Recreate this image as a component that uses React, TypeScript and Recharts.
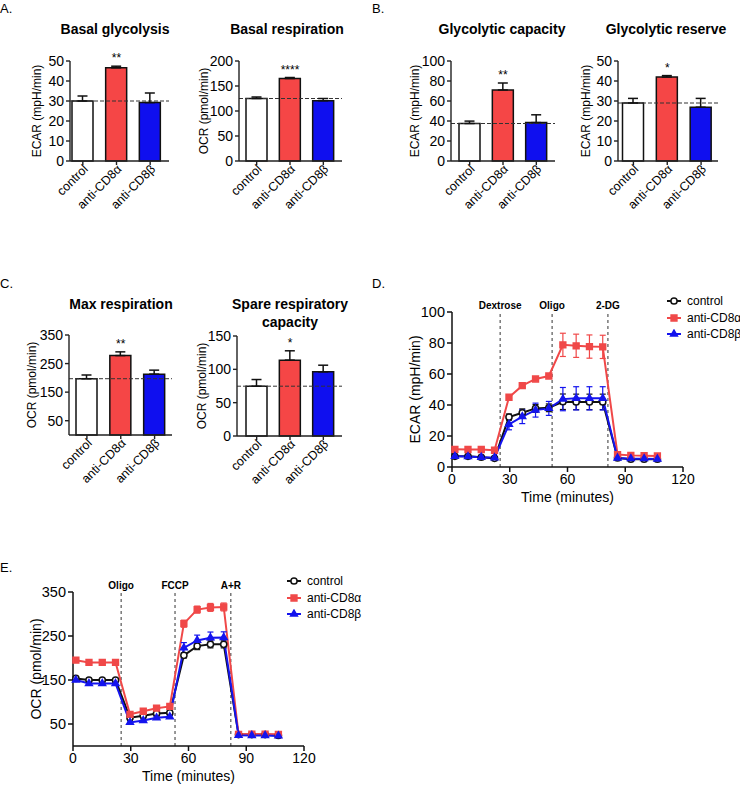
import React from 'react'
import {
  BarChart,
  Bar,
  Cell,
  ErrorBar,
  LineChart,
  Line,
  XAxis,
  YAxis,
  ReferenceLine,
  ReferenceDot,
  Legend,
  Symbols,
} from 'recharts'

const FONT = '"Liberation Sans", Arial, Helvetica, sans-serif'

// bar panels
const groups = ['control', 'anti-CD8α', 'anti-CD8β']
const groupColors = ['#ffffff', '#f54646', '#0f0fef']

const basalGlycolysis = [30, 46.6, 29.2]
const basalGlycolysisErr = [2.5, 0.8, 4.8]
const basalGlycolysisSig = ['', '**', '']

const basalRespiration = [125, 165, 120.5]
const basalRespirationErr = [3, 2, 4.5]
const basalRespirationSig = ['', '****', '']

const glycolyticCapacity = [37.5, 71, 38.4]
const glycolyticCapacityErr = [2.4, 7, 7.8]
const glycolyticCapacitySig = ['', '**', '']

const glycolyticReserve = [29, 42, 26.9]
const glycolyticReserveErr = [2.3, 0.7, 4.4]
const glycolyticReserveSig = ['', '*', '']

const maxRespiration = [197, 278, 213]
const maxRespirationErr = [13, 13, 14]
const maxRespirationSig = ['', '**', '']

const spareCapacity = [74.7, 113.8, 96.2]
const spareCapacityErr = [10, 14, 10]
const spareCapacitySig = ['', '*', '']

// time courses
const times = [1.5, 8.3, 15.2, 22.1, 29.6, 36.5, 43.4, 50.3, 57.6, 64.5, 71.4, 78.3, 86, 92.9, 99.8, 106.7]
const timeTicks = [0, 30, 60, 90, 120]

const ecarControl = [6.9, 6.9, 6.3, 5.6, 32.2, 35, 37.8, 38.2, 42.1, 42, 42, 42, 5.8, 5, 5, 5]
const ecarControlErr = [0.8, 0.8, 0.8, 0.8, 2, 2.5, 2.5, 2.5, 5, 5, 5, 5, 0.8, 0.5, 0.5, 0.5]
const ecarCD8a = [11.4, 11.3, 11.3, 10.8, 45, 52.5, 56.8, 58.7, 78.8, 78.2, 77.7, 77.5, 8, 7.5, 7.3, 7.1]
const ecarCD8aErr = [1, 1, 1, 1, 1, 1, 1, 1, 7.5, 7.5, 7.5, 7.5, 0.8, 0.8, 0.8, 0.8]
const ecarCD8b = [6.9, 6.7, 6.3, 6, 27.5, 32.5, 36.7, 37.8, 43.8, 44.3, 44.3, 44.3, 5.8, 5.4, 5.4, 5.2]
const ecarCD8bErr = [0.8, 0.8, 0.8, 0.8, 3.5, 4.5, 4.5, 4.5, 7.5, 7.5, 7.5, 7.5, 0.8, 0.8, 0.8, 0.8]
const ecarEvents = [25, 52, 81]
const ecarEventNames = ['Dextrose', 'Oligo', '2-DG']

const ocrControl = [153.5, 150, 150, 150, 64.3, 69, 74, 75.6, 206, 227, 231, 231, 26, 26, 26, 24]
const ocrControlErr = [3, 3, 3, 3, 3, 3, 3, 3, 6, 8, 8, 8, 2, 2, 2, 2]
const ocrCD8a = [195, 190, 190, 190, 72, 79, 86, 90, 278, 310, 315, 316, 26.5, 27, 27, 26.5]
const ocrCD8aErr = [4, 3, 3, 3, 3, 3, 3, 3, 8, 8, 9, 9, 2, 2, 2, 2]
const ocrCD8b = [150, 142, 142, 142, 53.7, 58, 64, 66.6, 223, 240, 246, 246.5, 24.2, 24, 24, 23]
const ocrCD8bErr = [3, 3, 3, 3, 3, 3, 3, 3, 12, 12, 13, 13, 2, 2, 2, 2]
const ocrEvents = [25, 53, 82]
const ocrEventNames = ['Oligo', 'FCCP', 'A+R']

const ecarData = times.map((t, i) => ({
  t,
  control: ecarControl[i],
  controlErr: ecarControlErr[i],
  cd8a: ecarCD8a[i],
  cd8aErr: ecarCD8aErr[i],
  cd8b: ecarCD8b[i],
  cd8bErr: ecarCD8bErr[i],
}))

const ocrData = times.map((t, i) => ({
  t,
  control: ocrControl[i],
  controlErr: ocrControlErr[i],
  cd8a: ocrCD8a[i],
  cd8aErr: ocrCD8aErr[i],
  cd8b: ocrCD8b[i],
  cd8bErr: ocrCD8bErr[i],
}))

const series = [
  { key: 'control', name: 'control', color: '#111111', fill: '#ffffff', symbol: 'circle', size: 30 },
  { key: 'cd8a', name: 'anti-CD8α', color: '#f04848', fill: '#f04848', symbol: 'square', size: 34 },
  { key: 'cd8b', name: 'anti-CD8β', color: '#1414ee', fill: '#1414ee', symbol: 'triangle', size: 20 },
]

const renderGroupTick = (props: any) => {
  const { x, y, payload } = props
  return (
    <text
      x={x + 3}
      y={y}
      dy={4}
      transform={`rotate(-45 ${x + 3} ${y})`}
      textAnchor="end"
      fontSize={12.5}
      fontFamily={FONT}
      fill="#000"
    >
      {payload.value}
    </text>
  )
}

type BarPanelProps = {
  left: number
  top: number
  width: number
  yAxisWidth: number
  marginRight: number
  padLeft: number
  padRight: number
  domain: [number, number]
  ticks: number[]
  means: number[]
  errs: number[]
  sig: string[]
  yLabel: string
  yLabelX: number
}

function BarPanel(p: BarPanelProps) {
  const data = groups.map((g, i) => ({ group: g, mean: p.means[i], err: [0, p.errs[i]] }))
  return (
    <div style={{ position: 'absolute', left: p.left, top: p.top }}>
      <BarChart
        width={p.width}
        height={193}
        data={data}
        margin={{ top: 21, right: p.marginRight, bottom: 0, left: 0 }}
        style={{ fontFamily: FONT }}
      >
        <XAxis
          dataKey="group"
          interval={0}
          padding={{ left: p.padLeft, right: p.padRight }}
          height={72}
          tickSize={4}
          axisLine={{ stroke: '#222', strokeWidth: 1.4 }}
          tickLine={{ stroke: '#222', strokeWidth: 1.4 }}
          tick={renderGroupTick}
        />
        <YAxis
          width={p.yAxisWidth}
          domain={p.domain}
          ticks={p.ticks}
          interval={0}
          tickSize={4}
          axisLine={{ stroke: '#222', strokeWidth: 1.4 }}
          tickLine={{ stroke: '#222', strokeWidth: 1.4 }}
          tick={{ fontSize: 14, fill: '#000' }}
          label={{
            value: p.yLabel,
            angle: -90,
            position: 'insideLeft',
            offset: p.yLabelX,
            fontSize: 12,
            fill: '#000',
            style: { textAnchor: 'middle' },
          }}
        />
        <ReferenceLine y={p.means[0]} stroke="#333" strokeDasharray="4 2" />
        <Bar dataKey="mean" barSize={21} stroke="#111" strokeWidth={1.5} isAnimationActive={false}>
          {data.map((d, i) => (
            <Cell key={d.group} fill={groupColors[i]} />
          ))}
          <ErrorBar dataKey="err" width={5} stroke="#111" strokeWidth={1.5} direction="y" />
        </Bar>
        {p.sig.map((s, i) =>
          s ? (
            <ReferenceDot
              key={groups[i]}
              x={groups[i]}
              y={p.means[i] + p.errs[i]}
              r={0}
              fill="none"
              stroke="none"
              label={{ value: s, position: 'top', offset: 4, fontSize: 12, fill: '#000' }}
            />
          ) : null
        )}
      </BarChart>
    </div>
  )
}

// legend keeps the series order (control first)
const renderLegend = (props: any) => {
  const payload: any[] = props.payload || []
  return (
    <div style={{ fontFamily: FONT, fontSize: 12, color: '#000' }}>
      {series.map((s) => {
        const entry = payload.find((e) => e.dataKey === s.key)
        return (
          <div key={s.key} style={{ display: 'flex', alignItems: 'center', height: 16.5, whiteSpace: 'nowrap' }}>
            <svg width={14} height={10}>
              <line x1={0} x2={14} y1={5} y2={5} stroke={s.color} strokeWidth={2} />
              <Symbols cx={7} cy={5} type={s.symbol as any} size={s.size} fill={s.fill} stroke={s.color} strokeWidth={1.5} />
            </svg>
            <span style={{ marginLeft: 6 }}>{entry ? entry.value : s.name}</span>
          </div>
        )
      })}
    </div>
  )
}

type TimePanelProps = {
  left: number
  top: number
  height: number
  yAxisWidth: number
  marginTop: number
  marginRight: number
  marginBottom: number
  yDomain: [number, number]
  yTicks: number[]
  data: any[]
  yLabel: string
  yLabelX: number
  events: number[]
  eventNames: string[]
  legendLeft: number
  legendTop: number
}

function TimePanel(p: TimePanelProps) {
  return (
    <div style={{ position: 'absolute', left: p.left, top: p.top }}>
      <LineChart
        width={370}
        height={p.height}
        data={p.data}
        margin={{ top: p.marginTop, right: p.marginRight, bottom: p.marginBottom, left: 0 }}
        style={{ fontFamily: FONT }}
      >
        <XAxis
          type="number"
          dataKey="t"
          domain={[0, 120]}
          ticks={timeTicks}
          interval={0}
          tickSize={5}
          height={36}
          axisLine={{ stroke: '#111', strokeWidth: 1.5 }}
          tickLine={{ stroke: '#111', strokeWidth: 1.5 }}
          tick={{ fontSize: 14, fill: '#000' }}
          label={{ value: 'Time (minutes)', position: 'insideBottom', offset: 1, fontSize: 14, fill: '#000' }}
        />
        <YAxis
          domain={p.yDomain}
          ticks={p.yTicks}
          interval={0}
          width={p.yAxisWidth}
          tickSize={5}
          axisLine={{ stroke: '#111', strokeWidth: 1.5 }}
          tickLine={{ stroke: '#111', strokeWidth: 1.5 }}
          tick={{ fontSize: 14.5, fill: '#000' }}
          label={{
            value: p.yLabel,
            angle: -90,
            position: 'insideLeft',
            offset: p.yLabelX,
            fontSize: 14,
            fill: '#000',
            style: { textAnchor: 'middle' },
          }}
        />
        {p.events.map((e, i) => (
          <ReferenceLine
            key={e}
            x={e}
            stroke="#333"
            strokeDasharray="3 3"
            label={{ value: p.eventNames[i], position: 'top', offset: 3, fontSize: 10, fontWeight: 700, fill: '#000' }}
          />
        ))}
        {series.map((s) => (
          <Line
            key={s.key}
            dataKey={s.key}
            name={s.name}
            stroke={s.color}
            strokeWidth={2}
            isAnimationActive={false}
            dot={(dp: any) => (
              <Symbols
                key={`${s.key}-${dp.index}`}
                cx={dp.cx}
                cy={dp.cy}
                type={s.symbol as any}
                size={s.size}
                fill={s.fill}
                stroke={s.color}
                strokeWidth={1.5}
              />
            )}
          >
            <ErrorBar dataKey={`${s.key}Err`} width={3} stroke={s.color} strokeWidth={1.2} direction="y" />
          </Line>
        ))}
        <Legend
          layout="horizontal"
          verticalAlign="middle"
          align="center"
          content={renderLegend}
          wrapperStyle={{ left: p.legendLeft, top: p.legendTop, width: 80 }}
        />
      </LineChart>
    </div>
  )
}

const panelLabel = (text: string, left: number, top: number) => (
  <div style={{ position: 'absolute', left, top, fontSize: 13 }}>{text}</div>
)

const title = (text: React.ReactNode, center: number, top: number) => (
  <div
    style={{
      position: 'absolute',
      left: center - 100,
      top,
      width: 200,
      textAlign: 'center',
      fontSize: 14,
      fontWeight: 700,
      lineHeight: '18px',
    }}
  >
    {text}
  </div>
)

export default function App() {
  return (
    <div
      style={{
        position: 'absolute',
        left: 0,
        top: 0,
        width: 740,
        height: 786,
        background: '#fff',
        fontFamily: FONT,
        color: '#000',
      }}
    >
      {panelLabel('A.', 0, 1)}
      {panelLabel('B.', 372, 1)}
      {panelLabel('C.', 0, 276)}
      {panelLabel('D.', 372, 276)}
      {panelLabel('E.', 0, 560)}

      {title('Basal glycolysis', 115, 20)}
      {title('Basal respiration', 287, 20)}
      {title('Glycolytic capacity', 502, 20)}
      {title('Glycolytic reserve', 666, 20)}
      {title('Max respiration', 121, 295)}
      {title(
        <>
          Spare respiratory
          <br />
          capacity
        </>,
        290,
        295
      )}

      <BarPanel
        left={0}
        top={40}
        width={180}
        yAxisWidth={70}
        marginRight={11}
        padLeft={-4}
        padRight={2}
        domain={[0, 50]}
        ticks={[0, 10, 20, 30, 40, 50]}
        means={basalGlycolysis}
        errs={basalGlycolysisErr}
        sig={basalGlycolysisSig}
        yLabel="ECAR (mpH/min)"
        yLabelX={37}
      />
      <BarPanel
        left={180}
        top={40}
        width={180}
        yAxisWidth={59}
        marginRight={18}
        padLeft={1}
        padRight={2}
        domain={[0, 200]}
        ticks={[0, 50, 100, 150, 200]}
        means={basalRespiration}
        errs={basalRespirationErr}
        sig={basalRespirationSig}
        yLabel="OCR (pmol/min)"
        yLabelX={24}
      />
      <BarPanel
        left={370}
        top={40}
        width={190}
        yAxisWidth={81}
        marginRight={5}
        padLeft={2}
        padRight={2}
        domain={[0, 100]}
        ticks={[0, 20, 40, 60, 80, 100]}
        means={glycolyticCapacity}
        errs={glycolyticCapacityErr}
        sig={glycolyticCapacitySig}
        yLabel="ECAR (mpH/min)"
        yLabelX={45}
      />
      <BarPanel
        left={560}
        top={40}
        width={180}
        yAxisWidth={58}
        marginRight={22}
        padLeft={-1.5}
        padRight={0}
        domain={[0, 50]}
        ticks={[0, 10, 20, 30, 40, 50]}
        means={glycolyticReserve}
        errs={glycolyticReserveErr}
        sig={glycolyticReserveSig}
        yLabel="ECAR (mpH/min)"
        yLabelX={26}
      />
      <BarPanel
        left={0}
        top={314}
        width={180}
        yAxisWidth={69}
        marginRight={8}
        padLeft={1}
        padRight={0.5}
        domain={[0, 350]}
        ticks={[50, 150, 250, 350]}
        means={maxRespiration}
        errs={maxRespirationErr}
        sig={maxRespirationSig}
        yLabel="OCR (pmol/min)"
        yLabelX={32}
      />
      <BarPanel
        left={180}
        top={315}
        width={180}
        yAxisWidth={57}
        marginRight={18}
        padLeft={3}
        padRight={2}
        domain={[0, 150]}
        ticks={[0, 50, 100, 150]}
        means={spareCapacity}
        errs={spareCapacityErr}
        sig={spareCapacitySig}
        yLabel="OCR (pmol/min)"
        yLabelX={22}
      />

      <TimePanel
        left={370}
        top={285}
        height={260}
        yAxisWidth={82}
        marginTop={27}
        marginRight={57}
        marginBottom={42}
        yDomain={[0, 100]}
        yTicks={[0, 20, 40, 60, 80, 100]}
        data={ecarData}
        yLabel="ECAR (mpH/min)"
        yLabelX={45}
        events={ecarEvents}
        eventNames={ecarEventNames}
        legendLeft={297}
        legendTop={8}
      />
      <TimePanel
        left={0}
        top={570}
        height={216}
        yAxisWidth={73}
        marginTop={22}
        marginRight={66}
        marginBottom={4}
        yDomain={[0, 350]}
        yTicks={[50, 150, 250, 350]}
        data={ocrData}
        yLabel="OCR (pmol/min)"
        yLabelX={36}
        events={ocrEvents}
        eventNames={ocrEventNames}
        legendLeft={287}
        legendTop={3}
      />
    </div>
  )
}
